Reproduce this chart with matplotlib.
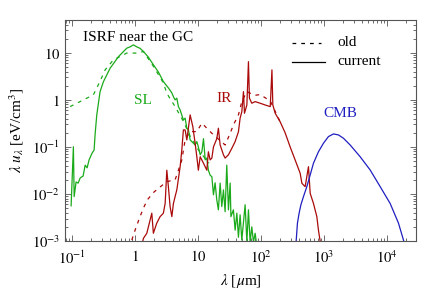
import matplotlib
matplotlib.use("Agg")
import matplotlib.pyplot as plt
from matplotlib.ticker import LogLocator, FixedLocator, NullFormatter

plt.rcParams['font.family'] = ['Liberation Serif', 'DejaVu Serif']
plt.rcParams['mathtext.fontset'] = 'stix'

# --- data (wavelength in micron, lambda*u in eV/cm^3) ---
sl_cur_x = [0.0975, 0.106, 0.109, 0.117, 0.126, 0.136, 0.151, 0.163, 0.175, 0.188,
            0.21, 0.226, 0.234, 0.249, 0.281, 0.318, 0.405, 0.55, 0.746, 0.84,
            0.95, 1.076, 1.21, 1.37, 1.63, 1.97, 2.37, 2.84, 3.41, 3.87,
            4.1, 4.36, 4.64, 4.92, 5.24, 5.9, 6.29, 6.69, 7.1, 7.55,
            8.51, 9.06, 9.64, 10.2, 10.9, 11.6, 12.3, 13.1, 13.9, 14.7,
            15.7, 16.7, 17.7, 18.8, 20.0, 21.2, 22.6, 24.0, 25.5, 27.1,
            28.8, 30.6, 32.6, 33.5, 36.7, 39.1, 41.6, 44.1, 46.9, 49.9,
            56.3, 60.0, 63.6, 67.6, 71.9, 76.3, 81.2, 86.4]
sl_cur_y = [0.0056, 0.101, 0.0088, 0.018, 0.017, 0.022, 0.024, 0.041, 0.036, 0.053,
            0.074, 0.086, 0.18, 0.48, 1.5, 2.45, 4.7, 8.3, 12.6, 13.4,
            14.8, 13.4, 12.5, 10.7, 8.2, 5.6, 3.9, 2.45, 1.8, 1.41,
            1.17, 1.0, 1.09, 0.72, 0.61, 0.375, 0.41, 0.25, 0.23, 0.141,
            0.12, 0.11, 0.13, 0.1, 0.068, 0.079, 0.15, 0.053, 0.058, 0.032,
            0.025, 0.0233, 0.0096, 0.0173, 0.0075, 0.0046, 0.017, 0.0054, 0.0122, 0.0042,
            0.041, 0.0046, 0.017, 0.0033, 0.0046, 0.0017, 0.0039, 0.0012, 0.0036, 0.00105,
            0.0059, 0.00095, 0.0046, 0.00095, 0.002, 0.00095, 0.00146, 0.0008]

sl_old_x = [0.094, 0.22, 0.281, 0.338, 0.457, 0.746, 1.076, 1.37, 1.97, 2.84,
            3.22, 4.36, 5.9, 7.55, 10.0, 15.0]
sl_old_y = [0.72, 1.28, 2.5, 4.35, 7.1, 9.9, 9.9, 10.7, 5.2, 2.3,
            1.38, 0.72, 0.35, 0.17, 0.09, 0.045]

ir_cur_x = [1.29, 1.37, 1.55, 1.86, 1.97, 2.23, 2.52, 2.84, 3.03, 3.22,
            3.41, 3.63, 3.87, 4.1, 4.36, 4.64, 5.24, 5.57, 5.9, 6.29,
            6.69, 7.55, 8.33, 9.06, 9.64, 10.2, 10.9, 12.3, 13.9, 14.7,
            15.7, 16.7, 17.7, 20.0, 21.2, 22.6, 25.5, 27.1, 30.6, 34.7,
            39.1, 44.1, 46.9, 49.9, 53.0, 55.0, 60.0, 63.6, 65.9, 71.9,
            81.2, 97.5, 117, 141, 150, 155, 169, 202, 243, 292,
            350, 421, 448, 505, 570, 607, 684, 774, 821, 873, 950]
ir_cur_y = [0.0008, 0.00114, 0.00146, 0.0039, 0.00146, 0.0024, 0.0033, 0.0039, 0.0063, 0.032,
            0.0143, 0.0054, 0.0033, 0.0063, 0.0088, 0.0122, 0.038, 0.086, 0.23, 0.23,
            0.141, 0.48, 0.27, 0.12, 0.062, 0.032, 0.062, 0.045, 0.032, 0.079,
            0.053, 0.058, 0.1, 0.15, 0.25, 0.11, 0.068, 0.058, 0.068, 0.094,
            0.13, 0.21, 0.41, 0.56, 1.5, 0.52, 0.78, 6.5, 1.09, 0.85,
            0.92, 0.85, 0.78, 0.72, 4.35, 0.78, 0.52, 0.345, 0.2, 0.1,
            0.053, 0.0275, 0.0169, 0.0143, 0.038, 0.0103, 0.0063, 0.0033, 0.0017, 0.001, 0.0005]

ir_old_x = [0.896, 1.01, 1.21, 1.37, 1.58, 1.97, 2.37, 3.22, 4.36, 4.92,
            5.57, 6.29, 7.55, 9.64, 11.6, 16.7, 27.1, 32.6, 36.7, 44.1,
            49.9, 60.0, 80.0, 97.5, 141, 202]
ir_old_y = [0.00105, 0.0017, 0.0033, 0.005, 0.0075, 0.0107, 0.0132, 0.0183, 0.02, 0.032,
            0.053, 0.141, 0.212, 0.212, 0.32, 0.195, 0.11, 0.195, 0.294, 0.48,
            0.92, 1.5, 1.25, 1.3, 0.95, 0.345]

cmb_x = [363, 381, 405, 431, 475, 537, 607, 684, 821, 986,
         1183, 1420, 1706, 2047, 2614, 3765, 5430, 7830, 11270, 15280,
         18340, 20250]
cmb_y = [0.00097, 0.0024, 0.0039, 0.0058, 0.0088, 0.0143, 0.0254, 0.045, 0.079, 0.12,
         0.166, 0.189, 0.18, 0.153, 0.11, 0.062, 0.0324, 0.0143, 0.0063, 0.0024,
         0.00105, 0.0007]

green = '#1aaa1a'
red = '#aa0a0a'
blue = '#1f1fc0'
dash = (0, (3, 4))
lw = 0.9

fig = plt.figure(figsize=(4.25, 2.91), dpi=100)
ax = fig.add_axes([65/425, 50/291, 351/425, 221/291])

ax.plot(sl_old_x, sl_old_y, color=green, lw=lw, ls=dash)
ax.plot(ir_old_x, ir_old_y, color=red, lw=lw, ls=dash)
ax.plot(sl_cur_x, sl_cur_y, color=green, lw=lw)
ax.plot(ir_cur_x, ir_cur_y, color=red, lw=lw)
ax.plot(cmb_x, cmb_y, color=blue, lw=lw)

ax.set_xscale('log')
ax.set_yscale('log')
ax.set_xlim(0.078, 29000)
ax.set_ylim(1e-3, 50)

def fmt(v):
    if v == 1:
        return r'$1$'
    if v == 10:
        return r'$10$'
    e = int(round(__import__('math').log10(v)))
    return r'$10^{%d}$' % e

xt = [0.1, 1, 10, 100, 1000, 10000]
yt = [0.001, 0.01, 0.1, 1, 10]
ax.xaxis.set_major_locator(FixedLocator(xt))
ax.yaxis.set_major_locator(FixedLocator(yt))
ax.set_xticklabels([fmt(v) for v in xt])
ax.set_yticklabels([fmt(v) for v in yt])
ax.xaxis.set_minor_locator(LogLocator(base=10, subs=range(2, 10), numticks=20))
ax.yaxis.set_minor_locator(LogLocator(base=10, subs=range(2, 10), numticks=20))
ax.xaxis.set_minor_formatter(NullFormatter())
ax.yaxis.set_minor_formatter(NullFormatter())

frame = '#555555'
for s in ax.spines.values():
    s.set_color(frame)
    s.set_linewidth(0.8)
ax.tick_params(which='both', direction='in', top=True, right=True, colors=frame,
               labelcolor='black', labelsize=10.5, width=0.6)
ax.tick_params(which='major', length=4)
ax.tick_params(which='minor', length=2)
ax.tick_params(axis='x', pad=6)

ax.set_xlabel(r'$\lambda$ [$\mu$m]', fontsize=11)
ax.set_ylabel(r'$\lambda\ u_\lambda$ [eV/cm$^3$]', fontsize=11, labelpad=4)

ax.text(0.051, 0.919, 'ISRF near the GC', transform=ax.transAxes, fontsize=11,
        ha='left', va='center')
ax.text(0.221, 0.638, 'SL', transform=ax.transAxes, fontsize=11, color=green,
        ha='center', va='center')
ax.text(0.454, 0.643, 'IR', transform=ax.transAxes, fontsize=11, color=red,
        ha='center', va='center')
ax.text(0.783, 0.579, 'CMB', transform=ax.transAxes, fontsize=11, color=blue,
        ha='center', va='center')

# legend drawn by hand
ax.plot([0.647, 0.73], [0.896, 0.896], transform=ax.transAxes, color='black', lw=lw, ls=dash)
ax.plot([0.647, 0.741], [0.81, 0.81], transform=ax.transAxes, color='black', lw=lw)
ax.text(0.775, 0.896, 'old', transform=ax.transAxes, fontsize=11, va='center')
ax.text(0.775, 0.81, 'current', transform=ax.transAxes, fontsize=11, va='center')

fig.savefig('out.png', dpi=100)
